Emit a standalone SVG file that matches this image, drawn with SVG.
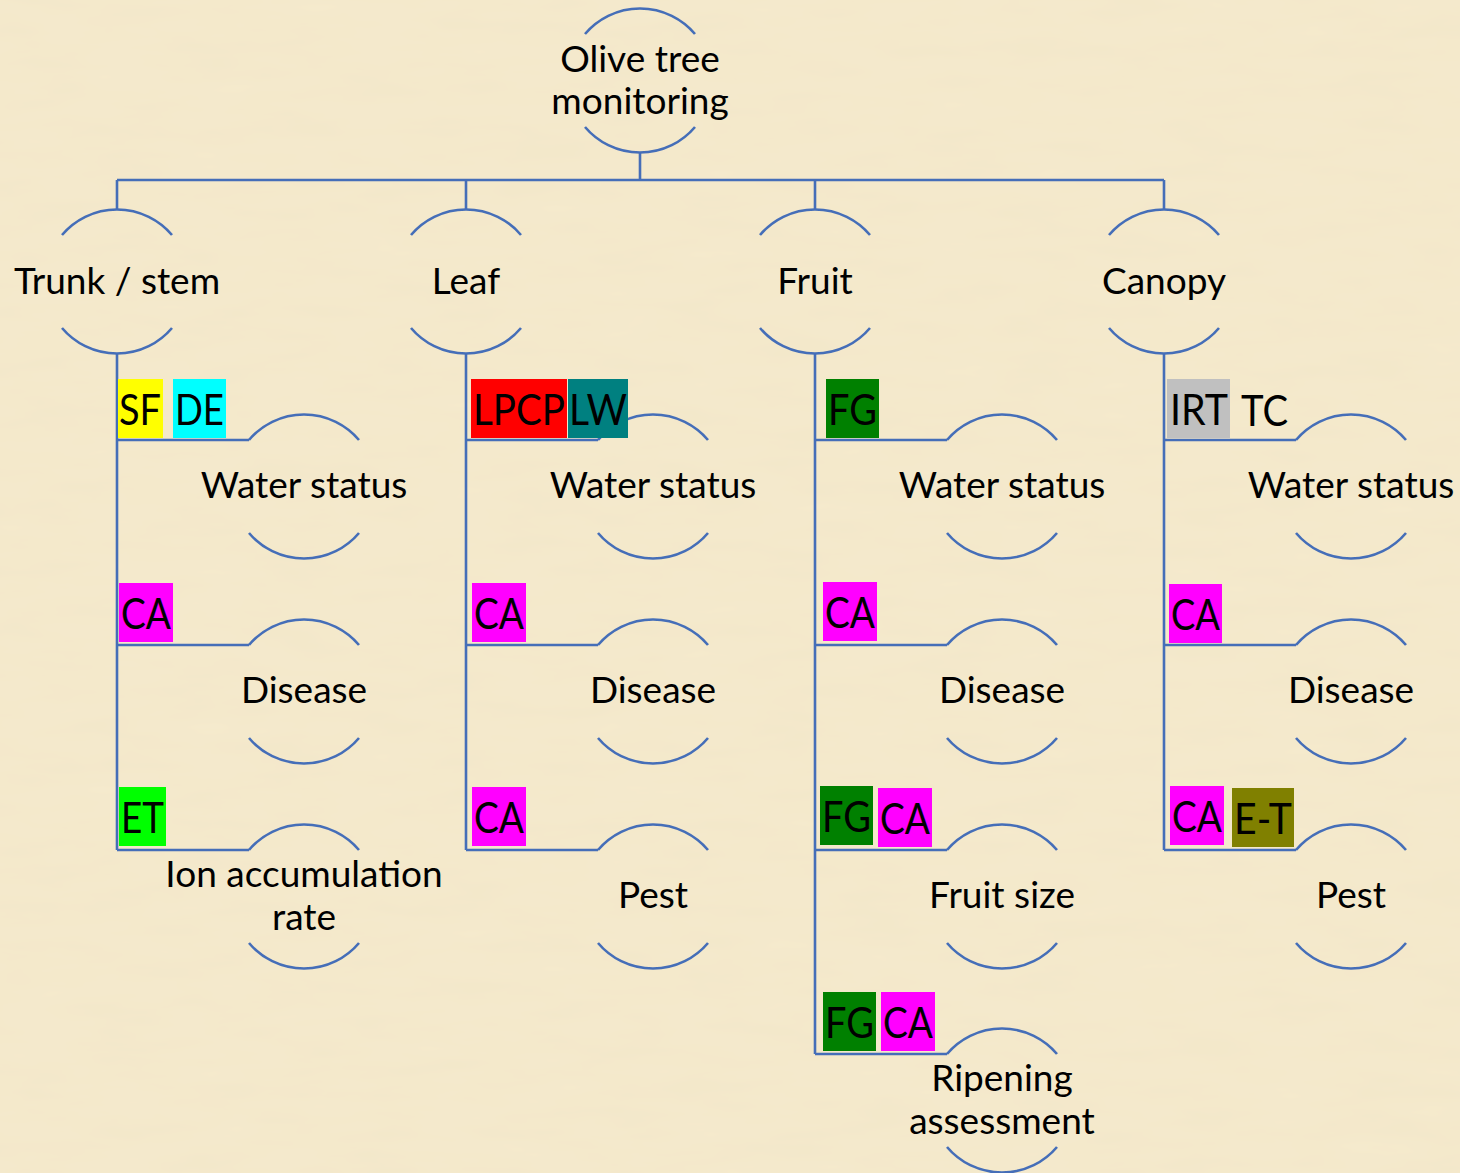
<svg xmlns="http://www.w3.org/2000/svg" width="1460" height="1173" viewBox="0 0 1460 1173">
<defs>
<filter id="paper" x="0" y="0" width="100%" height="100%">
<feTurbulence type="fractalNoise" baseFrequency="0.012 0.05" numOctaves="3" seed="7"/>
<feColorMatrix type="matrix" values="0 0 0 0 0.80  0 0 0 0 0.70  0 0 0 0 0.48  0 0 0 0.16 0"/>
</filter>
<style>
.bg{fill:#F5EACD}
.arc,.con{fill:none;stroke:#456EB8;stroke-width:2.6}
.lbl{font-family:Lato,"Open Sans",sans-serif;font-size:37px;fill:#000;text-anchor:middle}
.tag{font-family:Lato,"Open Sans",sans-serif;font-size:42px;fill:#000}
</style>
</defs>
<rect class="bg" width="1460" height="1173"/>
<rect width="1460" height="1173" filter="url(#paper)"/>

<g id="connectors">
<path class="con" d="M640,152.5V180 M117,180H1164 M117,180V209.5 M466,180V209.5 M815,180V209.5 M1164,180V209.5"/>
<path class="con" d="M117,353.5V850 M117,440H249 M117,645H249 M117,850H249"/>
<path class="con" d="M466,353.5V850 M466,440H598 M466,645H598 M466,850H598"/>
<path class="con" d="M815,353.5V1054 M815,440H947 M815,645H947 M815,850H947 M815,1054H947"/>
<path class="con" d="M1164,353.5V850 M1164,440H1296 M1164,645H1296 M1164,850H1296"/>
</g>

<g id="root">
<path class="arc" d="M585,34A72,72 0 0 1 695,34 M585,127A72,72 0 0 0 695,127"/>
<text class="lbl" x="640" y="72">Olive tree</text>
<text class="lbl" x="640" y="114">monitoring</text>
</g>

<g id="trunk">
<path class="arc" d="M62,235A72,72 0 0 1 172,235 M62,328A72,72 0 0 0 172,328"/>
<text class="lbl" x="117" y="294">Trunk / stem</text>
</g>
<g id="leaf">
<path class="arc" d="M411,235A72,72 0 0 1 521,235 M411,328A72,72 0 0 0 521,328"/>
<text class="lbl" x="466" y="294">Leaf</text>
</g>
<g id="fruit">
<path class="arc" d="M760,235A72,72 0 0 1 870,235 M760,328A72,72 0 0 0 870,328"/>
<text class="lbl" x="815" y="294">Fruit</text>
</g>
<g id="canopy">
<path class="arc" d="M1109,235A72,72 0 0 1 1219,235 M1109,328A72,72 0 0 0 1219,328"/>
<text class="lbl" x="1164" y="294">Canopy</text>
</g>

<!-- Trunk children -->
<g id="trunk-water">
<path class="arc" d="M249,440A72,72 0 0 1 359,440 M249,533A72,72 0 0 0 359,533"/>
<text class="lbl" x="304" y="498">Water status</text>
</g>
<g id="trunk-disease">
<path class="arc" d="M249,645A72,72 0 0 1 359,645 M249,738A72,72 0 0 0 359,738"/>
<text class="lbl" x="304" y="703">Disease</text>
</g>
<g id="trunk-ion">
<path class="arc" d="M249,850A72,72 0 0 1 359,850 M249,943A72,72 0 0 0 359,943"/>
<text class="lbl" x="304" y="887">Ion accumulation</text>
<text class="lbl" x="304" y="930">rate</text>
</g>

<!-- Leaf children -->
<g id="leaf-water">
<path class="arc" d="M598,440A72,72 0 0 1 708,440 M598,533A72,72 0 0 0 708,533"/>
<text class="lbl" x="653" y="498">Water status</text>
</g>
<g id="leaf-disease">
<path class="arc" d="M598,645A72,72 0 0 1 708,645 M598,738A72,72 0 0 0 708,738"/>
<text class="lbl" x="653" y="703">Disease</text>
</g>
<g id="leaf-pest">
<path class="arc" d="M598,850A72,72 0 0 1 708,850 M598,943A72,72 0 0 0 708,943"/>
<text class="lbl" x="653" y="908">Pest</text>
</g>

<!-- Fruit children -->
<g id="fruit-water">
<path class="arc" d="M947,440A72,72 0 0 1 1057,440 M947,533A72,72 0 0 0 1057,533"/>
<text class="lbl" x="1002" y="498">Water status</text>
</g>
<g id="fruit-disease">
<path class="arc" d="M947,645A72,72 0 0 1 1057,645 M947,738A72,72 0 0 0 1057,738"/>
<text class="lbl" x="1002" y="703">Disease</text>
</g>
<g id="fruit-size">
<path class="arc" d="M947,850A72,72 0 0 1 1057,850 M947,943A72,72 0 0 0 1057,943"/>
<text class="lbl" x="1002" y="908">Fruit size</text>
</g>
<g id="fruit-ripening">
<path class="arc" d="M947,1054A72,72 0 0 1 1057,1054 M947,1147A72,72 0 0 0 1057,1147"/>
<text class="lbl" x="1002" y="1091">Ripening</text>
<text class="lbl" x="1002" y="1134">assessment</text>
</g>

<!-- Canopy children -->
<g id="canopy-water">
<path class="arc" d="M1296,440A72,72 0 0 1 1406,440 M1296,533A72,72 0 0 0 1406,533"/>
<text class="lbl" x="1351" y="498">Water status</text>
</g>
<g id="canopy-disease">
<path class="arc" d="M1296,645A72,72 0 0 1 1406,645 M1296,738A72,72 0 0 0 1406,738"/>
<text class="lbl" x="1351" y="703">Disease</text>
</g>
<g id="canopy-pest">
<path class="arc" d="M1296,850A72,72 0 0 1 1406,850 M1296,943A72,72 0 0 0 1406,943"/>
<text class="lbl" x="1351" y="908">Pest</text>
</g>

<!-- Tags -->
<g id="tags">
<rect x="118" y="379" width="45" height="59" fill="#FFFF00"/>
<text class="tag" x="119" y="425" textLength="42" lengthAdjust="spacingAndGlyphs">SF</text>
<rect x="173" y="379" width="53" height="59" fill="#00FFFF"/>
<text class="tag" x="175" y="425" textLength="49" lengthAdjust="spacingAndGlyphs">DE</text>

<rect x="119" y="583" width="54" height="59" fill="#FF00FF"/>
<text class="tag" x="121" y="629" textLength="50" lengthAdjust="spacingAndGlyphs">CA</text>
<rect x="119" y="787" width="47" height="59" fill="#00FF00"/>
<text class="tag" x="121" y="833" textLength="43" lengthAdjust="spacingAndGlyphs">ET</text>

<rect x="471" y="379" width="96" height="59" fill="#FF0000"/>
<text class="tag" x="473" y="425" textLength="92" lengthAdjust="spacingAndGlyphs">LPCP</text>
<rect x="568" y="379" width="60" height="59" fill="#008080"/>
<text class="tag" x="569" y="425" textLength="58" lengthAdjust="spacingAndGlyphs">LW</text>
<rect x="472" y="583" width="54" height="59" fill="#FF00FF"/>
<text class="tag" x="474" y="629" textLength="50" lengthAdjust="spacingAndGlyphs">CA</text>
<rect x="472" y="787" width="54" height="59" fill="#FF00FF"/>
<text class="tag" x="474" y="833" textLength="50" lengthAdjust="spacingAndGlyphs">CA</text>

<rect x="826" y="379" width="53" height="59" fill="#008000"/>
<text class="tag" x="828" y="425" textLength="49" lengthAdjust="spacingAndGlyphs">FG</text>
<rect x="823" y="582" width="54" height="59" fill="#FF00FF"/>
<text class="tag" x="825" y="628" textLength="50" lengthAdjust="spacingAndGlyphs">CA</text>
<rect x="820" y="786" width="53" height="59" fill="#008000"/>
<text class="tag" x="822" y="832" textLength="49" lengthAdjust="spacingAndGlyphs">FG</text>
<rect x="878" y="788" width="54" height="59" fill="#FF00FF"/>
<text class="tag" x="880" y="834" textLength="50" lengthAdjust="spacingAndGlyphs">CA</text>
<rect x="823" y="992" width="53" height="59" fill="#008000"/>
<text class="tag" x="825" y="1038" textLength="49" lengthAdjust="spacingAndGlyphs">FG</text>
<rect x="881" y="992" width="54" height="59" fill="#FF00FF"/>
<text class="tag" x="883" y="1038" textLength="50" lengthAdjust="spacingAndGlyphs">CA</text>

<rect x="1167" y="379" width="63" height="59" fill="#C0C0C0"/>
<text class="tag" x="1170" y="425" textLength="58" lengthAdjust="spacingAndGlyphs">IRT</text>
<text class="tag" x="1241" y="426" textLength="47" lengthAdjust="spacingAndGlyphs">TC</text>
<rect x="1169" y="584" width="53" height="59" fill="#FF00FF"/>
<text class="tag" x="1171" y="630" textLength="49" lengthAdjust="spacingAndGlyphs">CA</text>
<rect x="1170" y="786" width="54" height="59" fill="#FF00FF"/>
<text class="tag" x="1172" y="832" textLength="50" lengthAdjust="spacingAndGlyphs">CA</text>
<rect x="1232" y="788" width="62" height="59" fill="#808000"/>
<text class="tag" x="1234" y="834" textLength="58" lengthAdjust="spacingAndGlyphs">E-T</text>
</g>
</svg>
